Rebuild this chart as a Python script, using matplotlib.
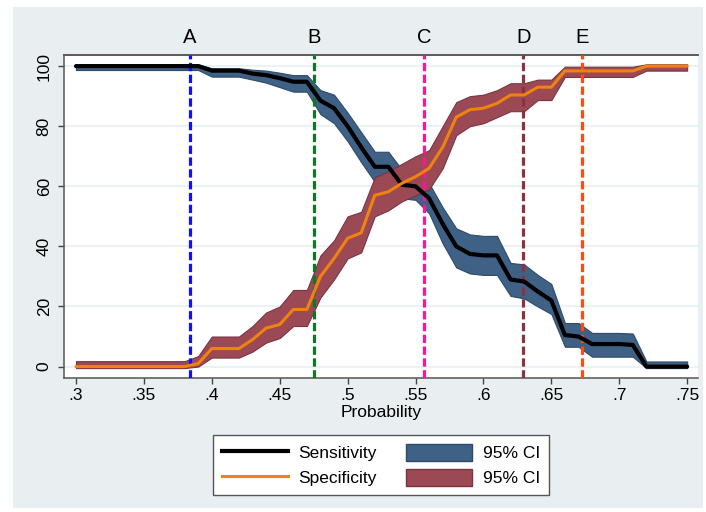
import numpy as np
import matplotlib.pyplot as plt
from matplotlib.lines import Line2D
from matplotlib.patches import Patch, Rectangle

plt.rcParams['font.family'] = ['Liberation Sans', 'DejaVu Sans']

# データ
prob = np.round(np.arange(0.30, 0.751, 0.01), 2)

sens = [100, 100, 100, 100, 100, 100, 100, 100, 100, 100,
        98.5, 98.5, 98.5, 97.5, 97, 96, 94.8, 94.8, 88.5, 86,
        80, 73, 66.5, 66.5, 60.5, 60, 56, 47.5, 40, 37.5,
        37, 37, 29, 28.3, 25, 22, 10.5, 10, 7.5, 7.5,
        7.5, 7.2, 0, 0, 0, 0]
sens_lo = [98.7, 98.7, 98.7, 98.7, 98.7, 98.7, 98.7, 98.7, 98.7, 98.7,
           96.5, 96.5, 96.5, 95.5, 94.5, 93, 91.5, 91.5, 84, 81,
           75, 68, 61.5, 61.5, 56, 55.5, 51, 41, 33, 31,
           30.5, 30.5, 23.5, 22.7, 20, 17.5, 6.6, 6.6, 3.3, 3.3,
           3.3, 3.3, -0.5, -0.5, -0.5, -0.5]
sens_hi = [100.6, 100.6, 100.6, 100.6, 100.6, 100.6, 100.6, 100.6, 100.6, 100.6,
           99.3, 99.3, 99.3, 98.8, 98.5, 97.8, 97, 97, 92, 90.5,
           84.5, 78, 71.5, 71.5, 65.5, 64.5, 61, 53, 46, 44,
           43.5, 43.5, 34.5, 34, 30.5, 27.5, 14.5, 14.5, 11.2, 11.2,
           11.2, 11, 1.7, 1.7, 1.7, 1.7]

spec = [0, 0, 0, 0, 0, 0, 0, 0, 0, 1,
        6, 6, 6, 9, 12.8, 14, 19, 19, 30, 36,
        42.7, 44.5, 57, 58.2, 61, 63.2, 66, 73, 83, 85.5,
        86, 87.6, 90.4, 90.4, 93, 93, 98.4, 98.4, 98.4, 98.4,
        98.4, 98.4, 100, 100, 100, 100]
spec_lo = [-0.5, -0.5, -0.5, -0.5, -0.5, -0.5, -0.5, -0.5, -0.5, 0,
           3, 3, 3, 5, 8, 9.5, 13.5, 13.5, 23, 29,
           36, 38, 50, 52, 55, 57, 59, 66, 77, 80,
           81, 83, 85, 85, 88.7, 88.7, 96.4, 96.4, 96.4, 96.4,
           96.4, 96.4, 98.5, 98.5, 98.5, 98.5]
spec_hi = [1.8, 1.8, 1.8, 1.8, 1.8, 1.8, 1.8, 1.8, 1.8, 3.5,
           10, 10, 10, 13.5, 18, 20, 25.5, 25.5, 37, 42,
           50, 51.5, 63, 65, 67.5, 70, 72, 80, 88, 90,
           90.5, 92, 94.3, 94.3, 95.5, 95.5, 99.8, 99.8, 99.8, 99.8,
           99.8, 99.8, 100.6, 100.6, 100.6, 100.6]

cut_names = ["A", "B", "C", "D", "E"]
cut_vals = [0.3839, 0.4753, 0.5563, 0.6294, 0.6728]
cut_colors = ["#1010ff", "#0c7a22", "#ff1493", "#8e3040", "#ff4a10"]

xticks = [0.30, 0.35, 0.40, 0.45, 0.50, 0.55, 0.60, 0.65, 0.70, 0.75]
xticklabels = [".3", ".35", ".4", ".45", ".5", ".55", ".6", ".65", ".7", ".75"]
yticks = [0, 20, 40, 60, 80, 100]

blue_fill = "#3f6185"
red_fill = "#9b4a55"
orange = "#f0820f"

# フィールド
fig = plt.figure(figsize=(7.06, 5.12), dpi=100, facecolor="white")
fig.patches.append(Rectangle((13 / 706, 4 / 512), 690 / 706, 501 / 512,
                             transform=fig.transFigure, facecolor="#e9eff1",
                             edgecolor="none", zorder=-10))
ax = fig.add_axes([63.5 / 706, 134 / 512, 634.5 / 706, 323 / 512])
ax.set_facecolor("white")

# 信頼区間
ax.fill_between(prob, sens_lo, sens_hi, color=blue_fill, edgecolor="#2e4b6a",
                lw=0.8, joinstyle="round", zorder=2)
ax.fill_between(prob, spec_lo, spec_hi, color=red_fill, edgecolor="#7a3440",
                lw=0.8, joinstyle="round", zorder=3)

# カットオフ
for v, c in zip(cut_vals, cut_colors):
    ax.axvline(v, color=c, lw=2.3, dashes=(2.6, 1.1), zorder=4)

# 曲線
ax.plot(prob, sens, color="black", lw=3.0, solid_joinstyle="round",
        solid_capstyle="round", zorder=5)
ax.plot(prob, spec, color=orange, lw=2.2, solid_joinstyle="round",
        solid_capstyle="round", zorder=6)

# 軸
ax.set_xlim(0.2908, 0.758)
ax.set_ylim(-3.8, 103.7)
ax.set_xticks(xticks)
ax.set_xticklabels(xticklabels, fontsize=12.5)
ax.set_yticks(yticks)
ax.set_yticklabels([str(t) for t in yticks], fontsize=12.5, rotation=90, va="center")
ax.tick_params(axis="both", length=4.5, width=1, color="#444444")
ax.tick_params(axis="x", pad=3)
ax.tick_params(axis="y", pad=4)
ax.grid(axis="y", color="#e6f0f2", lw=1.2, zorder=0)
ax.set_axisbelow(True)
for s in ["left", "bottom", "top"]:
    ax.spines[s].set_color("#555555")
    ax.spines[s].set_linewidth(1.1)
ax.spines["right"].set_visible(False)
ax.set_xlabel("Probability", fontsize=12.5, labelpad=1)

top = ax.secondary_xaxis("top")
top.set_xticks(cut_vals)
top.set_xticklabels(cut_names, fontsize=14.5)
top.tick_params(length=0, pad=6)
top.spines["top"].set_color("#555555")
top.spines["top"].set_linewidth(1.1)

# 凡例
handles = [Line2D([], [], color="black", lw=3.0),
           Line2D([], [], color=orange, lw=2.2),
           Patch(facecolor=blue_fill, edgecolor="#2e4b6a"),
           Patch(facecolor=red_fill, edgecolor="#7a3440")]
labels = ["Sensitivity", "Specificity", "95% CI", "95% CI"]
leg = fig.legend(handles, labels, ncol=2, loc="center",
                 bbox_to_anchor=(381 / 706, 47 / 512), fontsize=12.5,
                 frameon=True, fancybox=False, edgecolor="#555555",
                 framealpha=1, handlelength=3.8, handleheight=1.15,
                 handletextpad=0.6, columnspacing=1.7, labelspacing=0.45,
                 borderpad=0.5)
leg.get_frame().set_linewidth(1.0)

fig.savefig("out.png", dpi=100)
